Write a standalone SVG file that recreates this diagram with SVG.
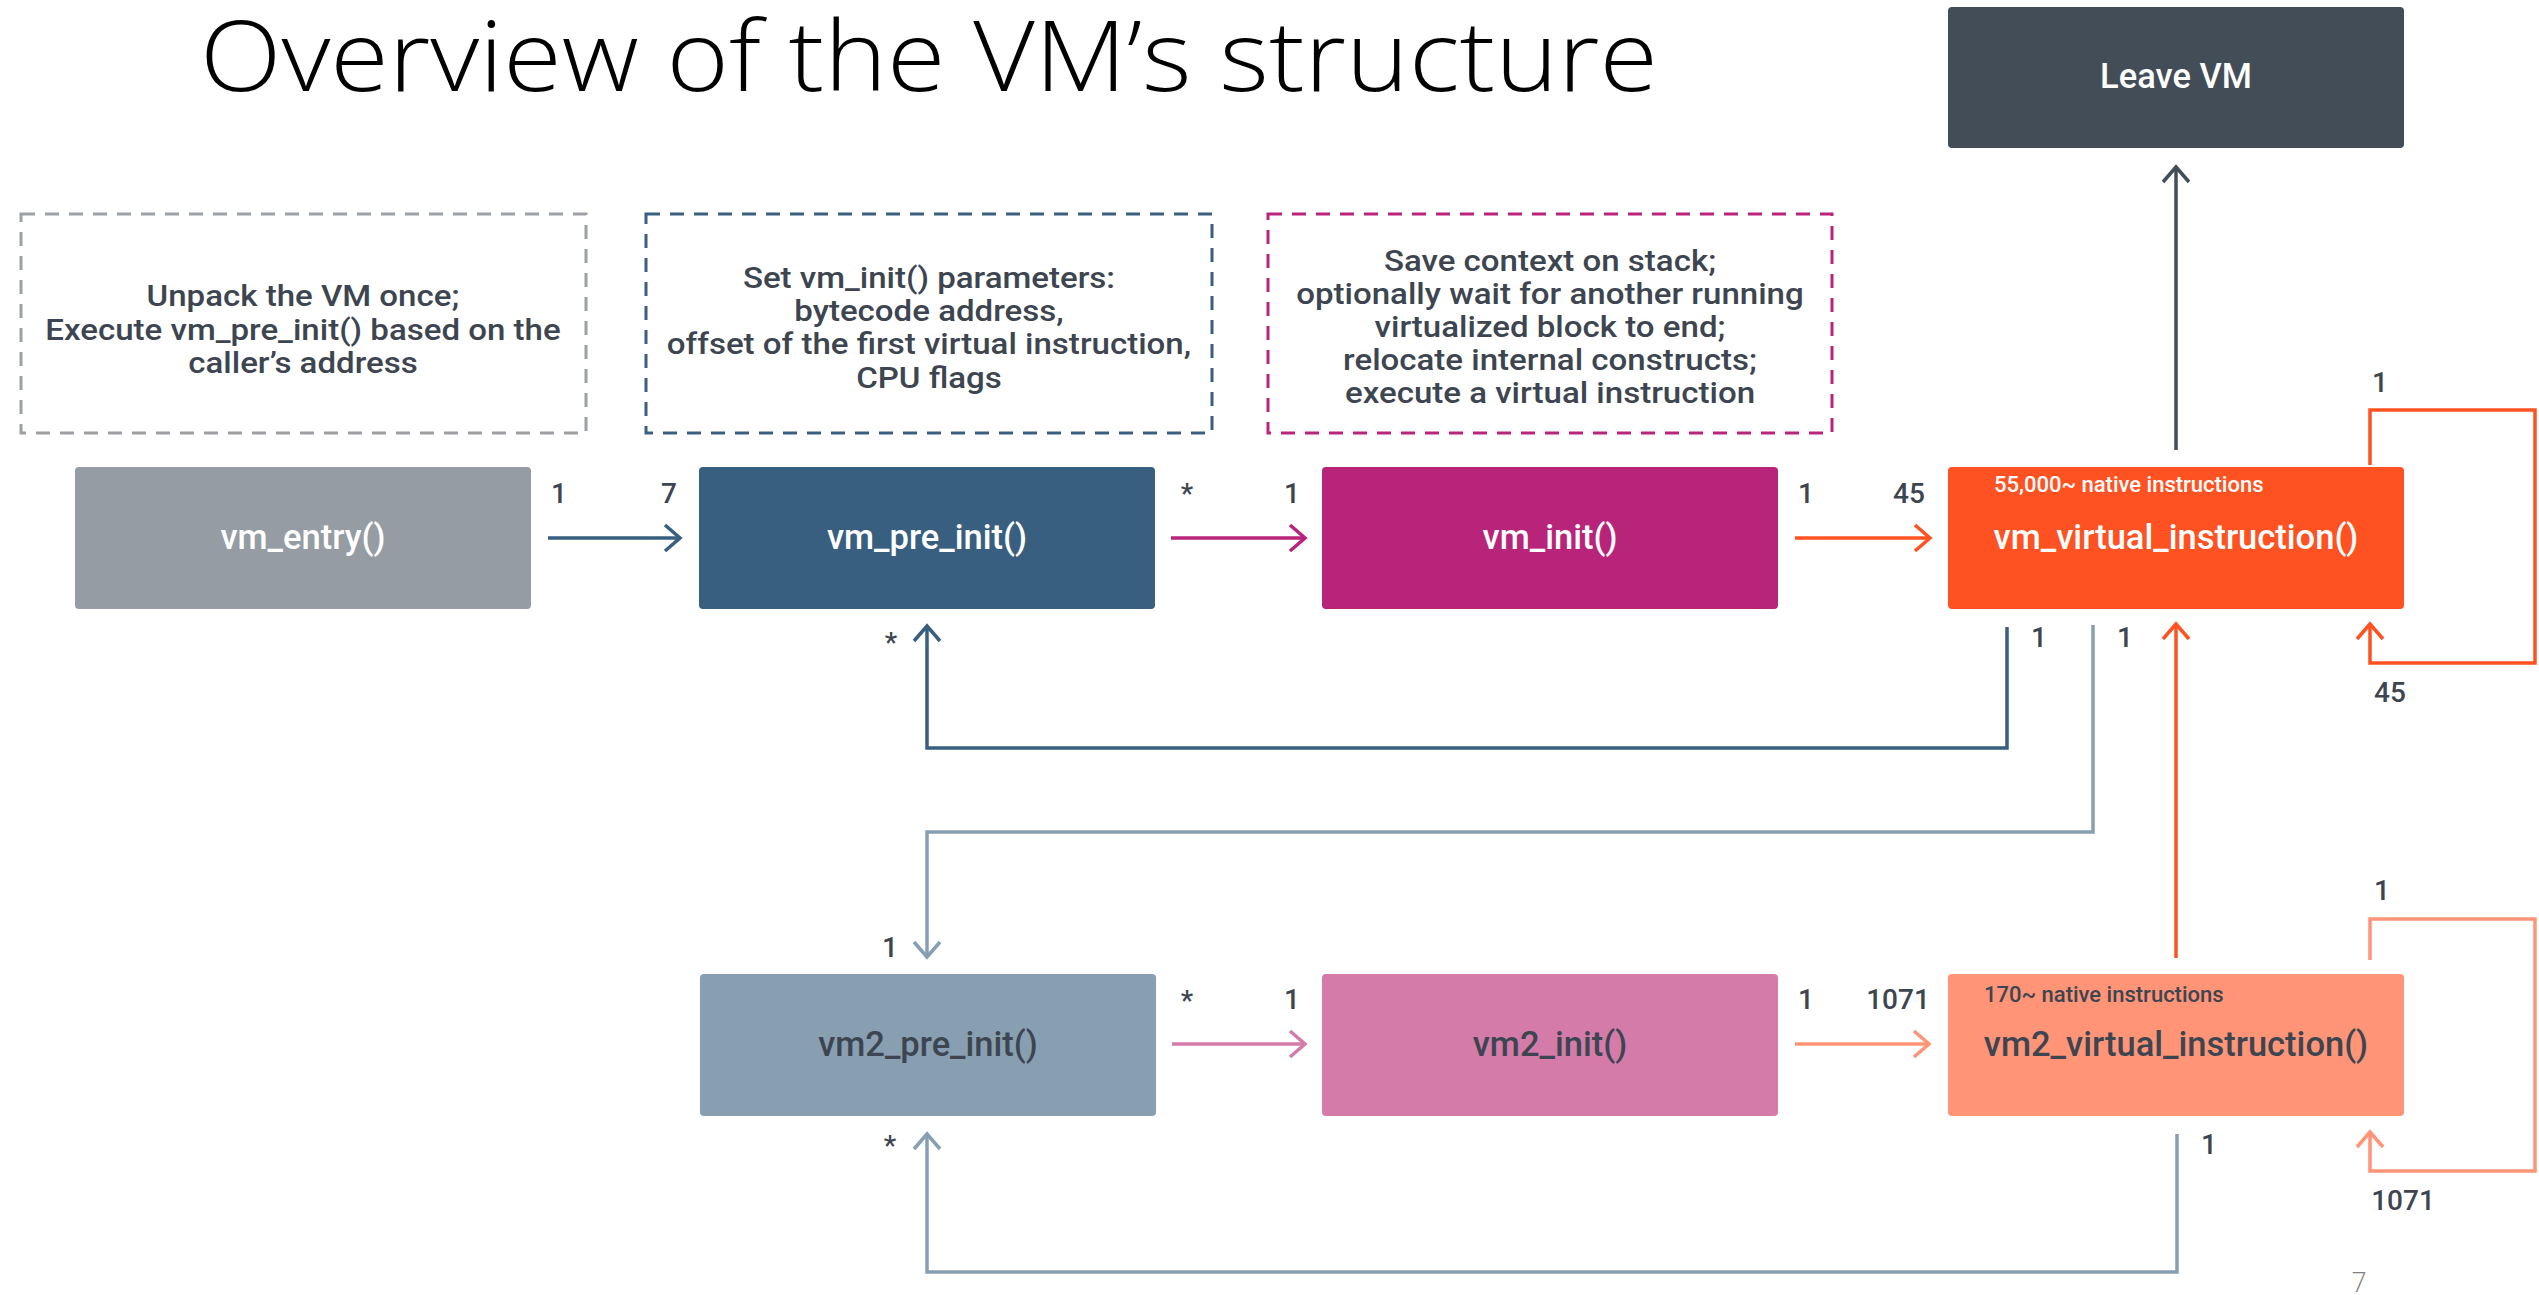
<svg xmlns="http://www.w3.org/2000/svg" width="2539" height="1295" viewBox="0 0 2539 1295">
<style>
.title{font-family:"Open Sans","Liberation Sans",sans-serif;font-weight:300;font-size:98px;fill:#000}
.note{font-family:"Roboto","Liberation Sans",sans-serif;font-weight:500;font-size:29px;fill:#3d4550;text-anchor:middle}
.dash{fill:none;stroke-width:3;stroke-dasharray:14 10}
.node{font-family:"Roboto","Liberation Sans",sans-serif;font-weight:500;font-size:34.5px;text-anchor:middle}
.small{font-family:"Roboto","Liberation Sans",sans-serif;font-weight:500;font-size:22px}
.lbl{font-family:"Roboto","Liberation Sans",sans-serif;font-weight:500;font-size:28px;fill:#3d4550;text-anchor:middle}
.c{fill:none;stroke-width:3.5}
.w{fill:#fff}
.d{fill:#3d4550}
</style>
<defs>
<marker id="a-blue" markerUnits="userSpaceOnUse" markerWidth="22" markerHeight="32" refX="17" refY="15" orient="auto"><path d="M2,2 L17,15 L2,28" fill="none" stroke="#385f7f" stroke-width="3.5"/></marker>
<marker id="a-pink" markerUnits="userSpaceOnUse" markerWidth="22" markerHeight="32" refX="17" refY="15" orient="auto"><path d="M2,2 L17,15 L2,28" fill="none" stroke="#b8247a" stroke-width="3.5"/></marker>
<marker id="a-orange" markerUnits="userSpaceOnUse" markerWidth="22" markerHeight="32" refX="17" refY="15" orient="auto"><path d="M2,2 L17,15 L2,28" fill="none" stroke="#ff5222" stroke-width="3.5"/></marker>
<marker id="a-dark" markerUnits="userSpaceOnUse" markerWidth="22" markerHeight="32" refX="17" refY="15" orient="auto"><path d="M2,2 L17,15 L2,28" fill="none" stroke="#434d57" stroke-width="3.5"/></marker>
<marker id="a-grey" markerUnits="userSpaceOnUse" markerWidth="22" markerHeight="32" refX="17" refY="15" orient="auto"><path d="M2,2 L17,15 L2,28" fill="none" stroke="#889fb2" stroke-width="3.5"/></marker>
<marker id="a-lpink" markerUnits="userSpaceOnUse" markerWidth="22" markerHeight="32" refX="17" refY="15" orient="auto"><path d="M2,2 L17,15 L2,28" fill="none" stroke="#d57baa" stroke-width="3.5"/></marker>
<marker id="a-salmon" markerUnits="userSpaceOnUse" markerWidth="22" markerHeight="32" refX="17" refY="15" orient="auto"><path d="M2,2 L17,15 L2,28" fill="none" stroke="#ff9477" stroke-width="3.5"/></marker>
</defs>
<rect width="2539" height="1295" fill="#fff"/>
<text class="title" x="200" y="91" textLength="1458" lengthAdjust="spacingAndGlyphs">Overview of the VM’s structure</text>

<g id="note-entry">
<rect class="dash" x="21" y="214" width="565" height="219" stroke="#9aa0a6"/>
<g transform="translate(303,0) scale(1.14,1) translate(-303,0)">
<text class="note" x="303" y="306">Unpack the VM once;</text>
<text class="note" x="303" y="340">Execute vm_pre_init() based on the</text>
<text class="note" x="303" y="373">caller’s address</text>
</g>
</g>
<g id="note-preinit">
<rect class="dash" x="646" y="214" width="566" height="219" stroke="#3a5f80"/>
<g transform="translate(929,0) scale(1.14,1) translate(-929,0)">
<text class="note" x="929" y="288">Set vm_init() parameters:</text>
<text class="note" x="929" y="321">bytecode address,</text>
<text class="note" x="929" y="354">offset of the first virtual instruction,</text>
<text class="note" x="929" y="388">CPU flags</text>
</g>
</g>
<g id="note-init">
<rect class="dash" x="1268" y="214" width="564" height="219" stroke="#b8257a"/>
<g transform="translate(1550,0) scale(1.14,1) translate(-1550,0)">
<text class="note" x="1550" y="271">Save context on stack;</text>
<text class="note" x="1550" y="304">optionally wait for another running</text>
<text class="note" x="1550" y="337">virtualized block to end;</text>
<text class="note" x="1550" y="370">relocate internal constructs;</text>
<text class="note" x="1550" y="403">execute a virtual instruction</text>
</g>
</g>

<g id="leave-vm">
<rect x="1948" y="7" width="456" height="141" rx="4" fill="#434d57"/>
<text class="node w" x="2176" y="88" font-size="30">Leave VM</text>
</g>
<g id="vm-entry">
<rect x="75" y="467" width="456" height="142" rx="4" fill="#959ca3"/>
<text class="node w" x="303" y="549">vm_entry()</text>
</g>
<g id="vm-pre-init">
<rect x="699" y="467" width="456" height="142" rx="4" fill="#385f7f"/>
<text class="node w" x="927" y="549">vm_pre_init()</text>
</g>
<g id="vm-init">
<rect x="1322" y="467" width="456" height="142" rx="4" fill="#b8247a"/>
<text class="node w" x="1550" y="549">vm_init()</text>
</g>
<g id="vm-virtual-instruction">
<rect x="1948" y="467" width="456" height="142" rx="4" fill="#ff5222"/>
<text class="small w" x="1994" y="492">55,000~ native instructions</text>
<text class="node w" x="2176" y="549">vm_virtual_instruction()</text>
</g>
<g id="vm2-pre-init">
<rect x="700" y="974" width="456" height="142" rx="4" fill="#889fb2"/>
<text class="node d" x="928" y="1056">vm2_pre_init()</text>
</g>
<g id="vm2-init">
<rect x="1322" y="974" width="456" height="142" rx="4" fill="#d57baa"/>
<text class="node d" x="1550" y="1056">vm2_init()</text>
</g>
<g id="vm2-virtual-instruction">
<rect x="1948" y="974" width="456" height="142" rx="4" fill="#ff9477"/>
<text class="small d" x="1984" y="1002">170~ native instructions</text>
<text class="node d" x="2176" y="1056">vm2_virtual_instruction()</text>
</g>

<g id="connectors">
<path class="c" d="M548,538 H680" stroke="#385f7f" marker-end="url(#a-blue)"/>
<path class="c" d="M1171,538 H1305" stroke="#b8247a" marker-end="url(#a-pink)"/>
<path class="c" d="M1795,538 H1930" stroke="#ff5222" marker-end="url(#a-orange)"/>
<path class="c" d="M2176,450 V167" stroke="#434d57" marker-end="url(#a-dark)"/>
<path class="c" d="M2370,465 V410 H2535 V663 H2370 V624" stroke="#ff5222" marker-end="url(#a-orange)"/>
<path class="c" d="M2007,627 V748 H927 V626" stroke="#385f7f" marker-end="url(#a-blue)"/>
<path class="c" d="M2093,625 V832 H927 V957" stroke="#889fb2" marker-end="url(#a-grey)"/>
<path class="c" d="M2176,958 V624" stroke="#ff5222" stroke-width="3" marker-end="url(#a-orange)"/>
<path class="c" d="M1172,1044 H1305" stroke="#d57baa" marker-end="url(#a-lpink)"/>
<path class="c" d="M1795,1044 H1929" stroke="#ff9477" marker-end="url(#a-salmon)"/>
<path class="c" d="M2370,960 V919 H2535 V1171 H2370 V1132" stroke="#ff9477" marker-end="url(#a-salmon)"/>
<path class="c" d="M2177,1134 V1272 H927 V1134" stroke="#889fb2" marker-end="url(#a-grey)"/>

<text class="lbl" x="559" y="503">1</text>
<text class="lbl" x="669" y="503">7</text>
<text class="lbl" x="1187" y="503">*</text>
<text class="lbl" x="1292" y="503">1</text>
<text class="lbl" x="1806" y="503">1</text>
<text class="lbl" x="1909" y="503">45</text>
<text class="lbl" x="2380" y="392">1</text>
<text class="lbl" x="2390" y="702">45</text>
<text class="lbl" x="891" y="652">*</text>
<text class="lbl" x="2039" y="647">1</text>
<text class="lbl" x="2125" y="647">1</text>
<text class="lbl" x="890" y="957">1</text>
<text class="lbl" x="1187" y="1010">*</text>
<text class="lbl" x="1292" y="1009">1</text>
<text class="lbl" x="1806" y="1009">1</text>
<text class="lbl" x="1898" y="1009">1071</text>
<text class="lbl" x="2382" y="900">1</text>
<text class="lbl" x="2403" y="1210">1071</text>
<text class="lbl" x="890" y="1155">*</text>
<text class="lbl" x="2209" y="1154">1</text>
</g>
<text x="2359" y="1292" font-family="Open Sans, Liberation Sans, sans-serif" font-weight="300" font-size="27" fill="#7f7f7f" text-anchor="middle">7</text>
</svg>
